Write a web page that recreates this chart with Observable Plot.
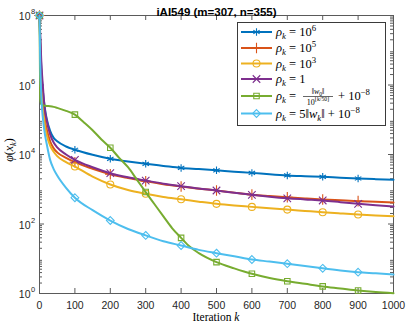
<!DOCTYPE html>
<html><head><meta charset="utf-8">
<script src="https://cdn.jsdelivr.net/npm/d3@7"></script>
<script src="https://cdn.jsdelivr.net/npm/@observablehq/plot@0.6"></script>
<style>body{margin:0;background:#fff} svg{display:block}</style>
</head><body><div id="chart"></div>
<script>
const title = "iAI549 (m=307, n=355)";
const xTicks = [0,100,200,300,400,500,600,700,800,900,1000];
const yTicks = [1,1e2,1e4,1e6,1e8];
const yExponents = ["0","2","4","6","8"];
const yMinor = [2,3,4,5,6,7,8,9,20,30,40,50,60,70,80,90,200,300,400,500,600,700,800,900,
  2e3,3e3,4e3,5e3,6e3,7e3,8e3,9e3,2e4,3e4,4e4,5e4,6e4,7e4,8e4,9e4,2e5,3e5,4e5,5e5,6e5,7e5,8e5,9e5,
  2e6,3e6,4e6,5e6,6e6,7e6,8e6,9e6,2e7,3e7,4e7,5e7,6e7,7e7,8e7,9e7];

const seriesNames = ["rho=1e6","rho=1e5","rho=1e3","rho=1","rho=adaptive","rho=5w"];
const seriesColors = ["#0072BD","#D95319","#EDB120","#7E2F8E","#77AC30","#4DBEEE"];
const seriesSymbols = ["asterisk","plus","circle","times","square2","diamond2"];

const kSteps = [0,2,5,10,15,20,30,40,50,75,100,150,200,250,300,350,400,450,500,550,600,650,700,750,800,850,900,950,1000];
const rho1e6 = [1e8,2e7,3e6,6e5,2.2e5,1.1e5,4.8e4,3e4,2.4e4,1.7e4,1.37e4,9.8e3,7.5e3,6.3e3,5.4e3,4.7e3,4.1e3,3.8e3,3.5e3,3.2e3,2.96e3,2.7e3,2.5e3,2.38e3,2.28e3,2.15e3,2.04e3,1.95e3,1.87e3];
const rho1e5 = [1e8,1.5e7,2e6,3e5,1e5,5.5e4,2.4e4,1.5e4,1.15e4,8e3,6e3,3.9e3,2.7e3,2.1e3,1.7e3,1.4e3,1.2e3,1.04e3,920,800,700,640,590,545,507,480,455,435,415];
const rho1e3 = [1e8,1.2e7,1.5e6,2.2e5,7e4,3.8e4,1.8e4,1.2e4,9e3,6e3,4.5e3,2.3e3,1.37e3,950,740,600,515,440,380,340,311,283,260,238,218,202,188,177,167];
const rho1 = [1e8,3e7,5e6,8e5,2e5,1e5,3.8e4,2.2e4,1.6e4,1e4,7e3,4.3e3,2.9e3,2.2e3,1.78e3,1.45e3,1.23e3,1.05e3,920,790,690,610,550,510,475,425,380,345,318];
const rho5w = [1e8,5e6,5e5,1e5,4e4,2.1e4,7e3,3.8e3,2.5e3,1.1e3,570,250,126,72,47,32,24,18,14.5,11.8,9.5,8.3,7.2,6.2,5.3,4.6,4.1,3.8,3.5];
const kAdaptive = [0,2,5,10,20,30,40,50,75,100,125,150,175,200,225,250,275,300,325,350,375,400,425,450,500,550,600,650,700,750,800,850,900,950,1000];
const rhoAdaptive = [1e8,4e5,2.8e5,2.6e5,2.5e5,2.45e5,2.35e5,2.2e5,1.8e5,1.4e5,8.5e4,5e4,2.7e4,1.56e4,8e3,4.3e3,1.9e3,830,370,165,75,40,22,14.5,8,5.3,3.7,2.8,2.26,1.9,1.6,1.4,1.22,1.1,1.02];

const seriesK = [kSteps,kSteps,kSteps,kSteps,kAdaptive,kSteps];
const seriesV = [rho1e6,rho1e5,rho1e3,rho1,rhoAdaptive,rho5w];

const rows = seriesNames.flatMap((name,i) => seriesK[i].map((k,j) => ({series:name, k, v:seriesV[i][j]})));
const markerRows = rows.filter(d => d.k % 100 === 0 && d.k < 1000);

const W = 407, H = 324, mL = 39, mR = 14, mT = 15, mB = 31;
const fw = W - mL - mR, fh = H - mT - mB;
const axisColor = "#5a5a5a", textColor = "#262626";
const sans = "'Liberation Sans', Arial, Helvetica, sans-serif";
const serif = "'Liberation Serif', 'DejaVu Serif', serif";

const marks = [
  Plot.frame({stroke: axisColor}),
  Plot.tickX(xTicks, {x: d => d, stroke: axisColor, insetTop: fh - 5}),
  Plot.tickX(xTicks, {x: d => d, stroke: axisColor, insetBottom: fh - 5}),
  Plot.tickY(yTicks, {y: d => d, stroke: axisColor, insetRight: fw - 5}),
  Plot.tickY(yTicks, {y: d => d, stroke: axisColor, insetLeft: fw - 5}),
  Plot.tickY(yMinor, {y: d => d, stroke: axisColor, insetRight: fw - 3}),
  Plot.tickY(yMinor, {y: d => d, stroke: axisColor, insetLeft: fw - 3}),
  Plot.axisX(xTicks, {tickSize: 0, tickPadding: 8, fontSize: 10.5, fontFamily: sans, fill: textColor, label: null, tickFormat: d => String(d)}),
  Plot.text(yTicks, {y: d => d, frameAnchor: "left", dx: -9, dy: 1.5, textAnchor: "end", text: () => "10", fontSize: 10.5, fontFamily: sans, fill: textColor}),
  Plot.text(yTicks, {y: d => d, frameAnchor: "left", dx: -8.5, dy: -3.5, textAnchor: "start", text: (d, i) => yExponents[i], fontSize: 7.5, fontFamily: sans, fill: textColor}),
  Plot.text([title], {frameAnchor: "top", dy: -8, fontWeight: "bold", fontSize: 11.5, fontFamily: sans, fill: "#000", text: d => d}),
];
seriesNames.forEach((name) => {
  marks.push(Plot.line(rows.filter(d => d.series === name), {x: "k", y: "v", stroke: "series", strokeWidth: 2, curve: "monotone-x"}));
  marks.push(Plot.dot(markerRows.filter(d => d.series === name), {x: "k", y: "v", stroke: "series", symbol: "series", r: 3.5, fill: "none", strokeWidth: 1.1}));
});

const chart = Plot.plot({
  width: W, height: H,
  marginLeft: mL, marginRight: mR, marginTop: mT, marginBottom: mB,
  x: {domain: [0, 1000], axis: null},
  y: {type: "log", domain: [1, 1e8], axis: null},
  color: {domain: seriesNames, range: seriesColors},
  symbol: {domain: seriesNames, range: seriesSymbols},
  style: {background: "#fff", fontFamily: sans},
  marks
});
document.getElementById("chart").appendChild(chart);

const svg = d3.select(chart);

function mathText(parent, x, y, parts, size, anchor) {
  const t = parent.append("text").attr("x", x).attr("y", y)
    .style("font-family", serif).style("font-size", size + "px").attr("fill", "#000")
    .attr("text-anchor", anchor || "start");
  let cur = 0;
  for (const p of parts) {
    const off = p.sub ? size * 0.25 : p.sup ? -size * 0.4 : 0;
    const ts = t.append("tspan").attr("dy", off - cur).text(p.t);
    cur = off;
    ts.style("font-style", p.i ? "italic" : "normal");
    if (p.sub || p.sup) ts.style("font-size", (size * 0.7) + "px");
  }
  return t;
}

// axis labels
mathText(svg, (mL + W - mR) / 2, 321, [{t: "Iteration "}, {t: "k", i: true}], 11.5, "middle");
const yl = svg.append("g").attr("transform", `translate(13,${mT + fh / 2 - 4}) rotate(-90)`);
mathText(yl, 0, 0, [{t: "φ", i: true}, {t: "("}, {t: "x", i: true}, {t: "k", i: true, sub: true}, {t: ")"}], 12, "middle");

// legend
const legendLabels = [
  [{t: "ρ", i: true}, {t: "k", i: true, sub: true}, {t: " = 10"}, {t: "6", sup: true}],
  [{t: "ρ", i: true}, {t: "k", i: true, sub: true}, {t: " = 10"}, {t: "5", sup: true}],
  [{t: "ρ", i: true}, {t: "k", i: true, sub: true}, {t: " = 10"}, {t: "3", sup: true}],
  [{t: "ρ", i: true}, {t: "k", i: true, sub: true}, {t: " = 1"}],
  [{t: "ρ", i: true}, {t: "k", i: true, sub: true}, {t: " = "}],
  [{t: "ρ", i: true}, {t: "k", i: true, sub: true}, {t: " = 5‖"}, {t: "w", i: true}, {t: "k", i: true, sub: true}, {t: "‖ + 10"}, {t: "−8", sup: true}]
];
const legendY = [32, 48, 63.5, 79, 96, 113.5];
const lg = svg.append("g");
lg.append("rect").attr("x", 237.5).attr("y", 22.5).attr("width", 148).attr("height", 103)
  .attr("fill", "#fff").attr("stroke", "#3a3a3a").attr("stroke-width", 1);
const symMap = {asterisk: d3.symbolAsterisk, plus: d3.symbolPlus, circle: d3.symbolCircle, times: d3.symbolTimes, square2: d3.symbolSquare2, diamond2: d3.symbolDiamond2};
seriesNames.forEach((name, i) => {
  const y = legendY[i];
  lg.append("line").attr("x1", 241).attr("x2", 272).attr("y1", y).attr("y2", y)
    .attr("stroke", seriesColors[i]).attr("stroke-width", 2);
  lg.append("path").attr("transform", `translate(256.5,${y})`)
    .attr("d", d3.symbol(symMap[seriesSymbols[i]], 3.5 * 3.5 * Math.PI)())
    .attr("fill", "none").attr("stroke", seriesColors[i]).attr("stroke-width", 1.1);
  mathText(lg, 276, y + 4, legendLabels[i], 12.5);
});
// fraction for adaptive rule
const fy = legendY[4];
mathText(lg, 318, fy - 2.5, [{t: "‖"}, {t: "w", i: true}, {t: "0", sub: true}, {t: "‖"}], 8, "middle");
lg.append("line").attr("x1", 303).attr("x2", 333).attr("y1", fy + 0.5).attr("y2", fy + 0.5).attr("stroke", "#000").attr("stroke-width", 0.6);
mathText(lg, 318, fy + 8.5, [{t: "10"}, {t: "⌊k/50⌋", sup: true}], 8, "middle");
mathText(lg, 338, fy + 4, [{t: "+ 10"}, {t: "−8", sup: true}], 12.5);
</script></body></html>
